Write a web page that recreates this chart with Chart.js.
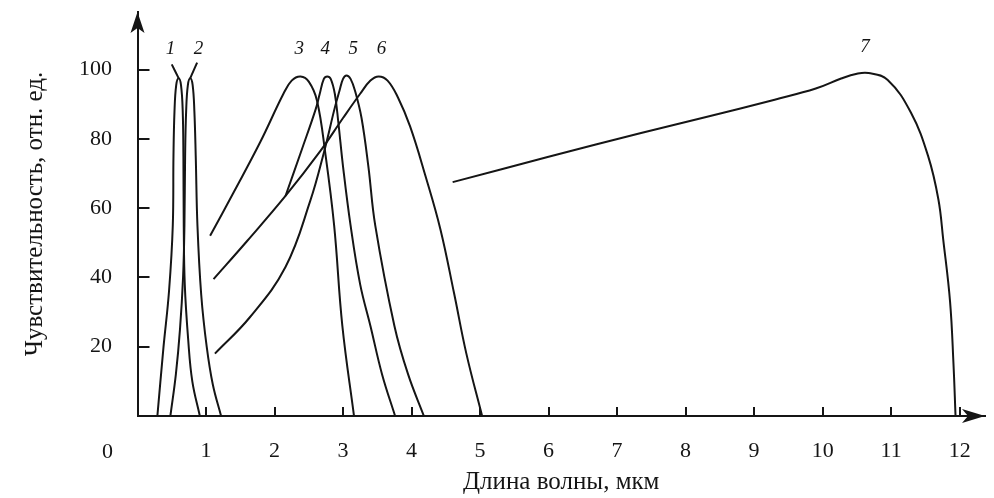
<!DOCTYPE html>
<html>
<head>
<meta charset="utf-8">
<script src="https://cdn.jsdelivr.net/npm/chart.js@4"></script>
<style>
  body { margin: 0; background: #fff; }
  #wrap { width: 994px; height: 498px; }
</style>
</head>
<body>
<div id="wrap"><canvas id="myChart"></canvas></div>
<script>
// spectral sensitivity curves, wavelength in um vs relative units
var curve1 = [[0.29, 0], [0.38, 20], [0.46, 36], [0.515, 55], [0.525, 75], [0.54, 88], [0.565, 95.5], [0.60, 97.5], [0.635, 95.5], [0.66, 88], [0.67, 75], [0.675, 55], [0.69, 38], [0.74, 22], [0.80, 10], [0.91, 0]];
var curve2 = [[0.48, 0], [0.56, 12], [0.62, 25], [0.665, 40], [0.685, 55], [0.695, 75], [0.71, 88], [0.735, 95.5], [0.77, 97.5], [0.805, 95.5], [0.83, 88], [0.85, 75], [0.875, 55], [0.93, 35], [1.01, 20], [1.10, 9], [1.22, 0]];
var curve3 = [[1.06, 52], [1.41, 64.8], [1.79, 79], [2.13, 93], [2.25, 96.8], [2.38, 98], [2.50, 96.5], [2.62, 91], [2.74, 76], [2.87, 55], [2.99, 26], [3.16, 0]];
var curve4 = [[2.16, 63.5], [2.40, 77], [2.60, 88.5], [2.66, 93], [2.72, 97.3], [2.77, 98], [2.82, 97.3], [2.88, 93], [2.93, 85], [3.00, 72], [3.11, 55], [3.25, 38], [3.40, 26], [3.57, 12], [3.76, 0]];
var curve5 = [[1.13, 18], [1.64, 28.5], [2.16, 43], [2.52, 62], [2.72, 76], [2.88, 89], [2.95, 94], [3.00, 97.3], [3.05, 98.3], [3.11, 97.3], [3.18, 93.5], [3.27, 86], [3.37, 72], [3.47, 55], [3.75, 26], [3.95, 12], [4.18, 0]];
var curve6 = [[1.11, 39.5], [1.60, 50.5], [2.16, 63.5], [2.67, 76.5], [3.00, 86], [3.25, 93], [3.40, 96.8], [3.52, 98], [3.65, 96.8], [3.80, 92], [3.98, 83.5], [4.20, 69.5], [4.42, 54], [4.62, 35.5], [4.80, 18], [5.03, 0]];
var curve7 = [[4.60, 67.5], [6.00, 74.8], [7.35, 81.7], [8.30, 86.3], [9.30, 91.3], [9.90, 94.5], [10.27, 97.4], [10.50, 98.8], [10.67, 99], [10.95, 97], [11.29, 87.5], [11.54, 75], [11.69, 62.5], [11.76, 51], [11.86, 33], [11.91, 15], [11.94, 0]];

// short strokes from the numbers 1 and 2 down to their peaks
var leader1 = [[0.50, 101.5], [0.60, 97.5]];
var leader2 = [[0.87, 102], [0.77, 97.5]];

var curveNames = ['1', '2', '3', '4', '5', '6', '7'];
var nameX = [0.48, 0.89, 2.36, 2.74, 3.15, 3.56, 10.62];
var nameY = [106, 106, 106, 106, 106, 106, 106.5];

var xTicks = [1, 2, 3, 4, 5, 6, 7, 8, 9, 10, 11, 12];
var yTicks = [20, 40, 60, 80, 100];

var ink = '#151515';
var serif = '"Liberation Serif", "DejaVu Serif", serif';

function toPoints(arr) {
    return arr.map(function (p) { return { x: p[0], y: p[1] }; });
}

function line(arr) {
    return {
        data: toPoints(arr),
        showLine: true,
        borderColor: ink,
        borderWidth: 2,
        pointRadius: 0,
        tension: 0.4
    };
}

// numbers over the curves, origin "0" and axis arrows
var decorations = {
    id: 'decorations',
    afterDraw: function (chart) {
        var c = chart.ctx;
        var xs = chart.scales.x, ys = chart.scales.y;
        var a = chart.chartArea;
        c.save();
        c.fillStyle = ink;
        c.textAlign = 'center';
        c.textBaseline = 'middle';
        c.font = 'italic 19px ' + serif;
        for (var i = 0; i < curveNames.length; i++) {
            c.fillText(curveNames[i], xs.getPixelForValue(nameX[i]), ys.getPixelForValue(nameY[i]));
        }
        c.font = '22px ' + serif;
        c.fillText('0', xs.getPixelForValue(0) - 30, ys.getPixelForValue(0) + 36);

        // y arrow
        var L = a.left, T = a.top;
        c.beginPath();
        c.moveTo(L, T);
        c.lineTo(L - 7, T + 21);
        c.lineTo(L, T + 16);
        c.lineTo(L + 7, T + 21);
        c.closePath();
        c.fill();
        // x arrow
        var R = a.right, B = a.bottom;
        c.beginPath();
        c.moveTo(R, B);
        c.lineTo(R - 23, B - 7);
        c.lineTo(R - 17, B);
        c.lineTo(R - 23, B + 7);
        c.closePath();
        c.fill();
        c.restore();
    }
};

var ctx = document.getElementById('myChart').getContext('2d');
var myChart = new Chart(ctx, {
    type: 'scatter',
    data: {
        datasets: [
            line(curve1), line(curve2), line(curve3), line(curve4),
            line(curve5), line(curve6), line(curve7),
            line(leader1), line(leader2)
        ]
    },
    options: {
        responsive: true,
        maintainAspectRatio: false,
        animation: false,
        layout: { padding: { top: 12, right: 9, left: 0, bottom: 0 } },
        plugins: {
            legend: { display: false },
            tooltip: { enabled: false }
        },
        scales: {
            x: {
                type: 'linear',
                min: 0,
                max: 12.37,
                afterBuildTicks: function (scale) {
                    scale.ticks = xTicks.map(function (v) { return { value: v }; });
                },
                afterFit: function (scale) {
                    scale.height = 82;
                    scale.paddingLeft = 0;
                    scale.paddingRight = 0;
                },
                grid: { drawOnChartArea: false, tickLength: -9, color: ink, lineWidth: 2 },
                border: { display: true, color: ink, width: 2 },
                ticks: { color: ink, padding: 31, maxRotation: 0, autoSkip: false, font: { family: serif, size: 22 } },
                title: {
                    display: true,
                    text: 'Длина волны, мкм',
                    color: ink,
                    font: { family: serif, size: 25 },
                    padding: { top: 0, bottom: 1 }
                }
            },
            y: {
                type: 'linear',
                min: 0,
                max: 116.6,
                afterBuildTicks: function (scale) {
                    scale.ticks = yTicks.map(function (v) { return { value: v }; });
                },
                afterFit: function (scale) {
                    scale.width = 137.5;
                    scale.paddingTop = 0;
                    scale.paddingBottom = 0;
                },
                grid: { drawOnChartArea: false, tickLength: -12, color: ink, lineWidth: 2 },
                border: { display: true, color: ink, width: 2 },
                ticks: { color: ink, padding: 37.5, font: { family: serif, size: 22 } },
                title: {
                    display: true,
                    text: 'Чувствительность, отн. ед.',
                    color: ink,
                    font: { family: serif, size: 25 },
                    padding: { top: 20, bottom: 0 }
                }
            }
        }
    },
    plugins: [decorations]
});
</script>
</body>
</html>
